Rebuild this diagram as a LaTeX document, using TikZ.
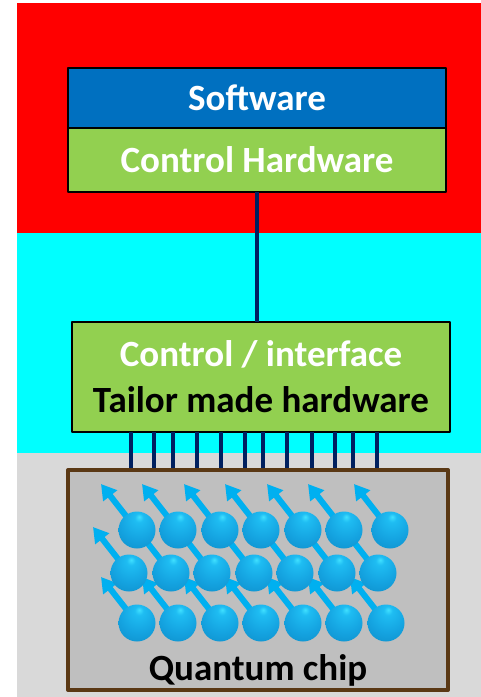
\documentclass[tikz,border=0pt]{standalone}
\usepackage{fontspec}
\setmainfont{Carlito}
\usetikzlibrary{arrows.meta}
\usetikzlibrary{positioning}
\definecolor{layerred}{RGB}{255,0,0}
\definecolor{layercyan}{RGB}{0,255,255}
\definecolor{layergray}{RGB}{217,217,217}
\definecolor{swblue}{RGB}{0,112,192}
\definecolor{hwgreen}{RGB}{146,208,80}
\definecolor{chipgray}{RGB}{191,191,191}
\definecolor{chipbrown}{RGB}{90,56,20}
\definecolor{wirenavy}{RGB}{0,32,96}
\definecolor{spinblue}{RGB}{0,176,240}
% shaded ball for the qubits, light spot a bit above the middle
\pgfdeclareradialshading{qubitball}{\pgfpoint{3bp}{18bp}}{%
  rgb(0bp)=(0.25,0.88,1.00);
  rgb(6bp)=(0.12,0.74,0.95);
  rgb(25bp)=(0.08,0.64,0.88);
  rgb(45bp)=(0.05,0.55,0.78);
  rgb(60bp)=(0.00,0.40,0.60);
  rgb(75bp)=(0.00,0.33,0.50)}

\begin{document}
\begin{tikzpicture}[x=1pt,y=-1pt,line join=round,
  layer/.style={draw=black,line width=1.8pt,minimum width=378pt,inner sep=0pt,outer sep=0pt,
    text=white,font=\fontsize{37}{46}\selectfont\bfseries},
  wire/.style={wirenavy,line width=4pt},
  spin/.style={spinblue,line width=6pt,-{Triangle[length=15pt,width=17pt]}},
  qubit/.style={shading=qubitball}]
\useasboundingbox (0,0) rectangle (481,697);
% bands behind the stack
\fill[layerred] (17,3) rectangle (481,233);
\fill[layercyan] (17,233) rectangle (481,453);
\fill[layergray] (17,453) rectangle (481,697);
% room temperature part
\node[layer,fill=swblue,minimum height=60pt] (sw) at (257,98) {Software};
\node[layer,fill=hwgreen,minimum height=64pt,below=0pt of sw] (hw) {Control Hardware};
% interface
\node[layer,fill=hwgreen,minimum height=110pt,align=center] (iface) at (261,377)
  {Control / interface\\\textcolor{black}{Tailor made hardware}};
\draw[wire] (hw.south) -- (hw.south |- iface.north);
\foreach \x in {131,154,173,197,221,245,263,287,312,335,353,377}
  \draw[wire] (iface.south -| \x,0) -- (\x,470);
% chip
\node[draw=chipbrown,line width=4pt,fill=chipgray,minimum width=380pt,minimum height=220pt,
  outer sep=0pt] (chip) at (258,580) {};
\node[anchor=base,font=\fontsize{37}{44}\selectfont\bfseries] (chiplabel)
  at ([yshift=10pt]chip.south) {Quantum chip};
% spins first, balls on top
\foreach \y/\xs in {530/{137,178,220,261,303,344,390},
                    573/{129,171,212,254,295,337,378},
                    623/{137,178,220,261,303,344,386}}
  \foreach \x in \xs
    \draw[spin] (\x,\y) -- (\x-36,\y-46);
\foreach \y/\xs in {530/{137,178,220,261,303,344,390},
                    573/{129,171,212,254,295,337,378},
                    623/{137,178,220,261,303,344,386}}
  \foreach \x in \xs
    \shade[qubit] (\x,\y) circle[radius=18.5];
\end{tikzpicture}
\end{document}
